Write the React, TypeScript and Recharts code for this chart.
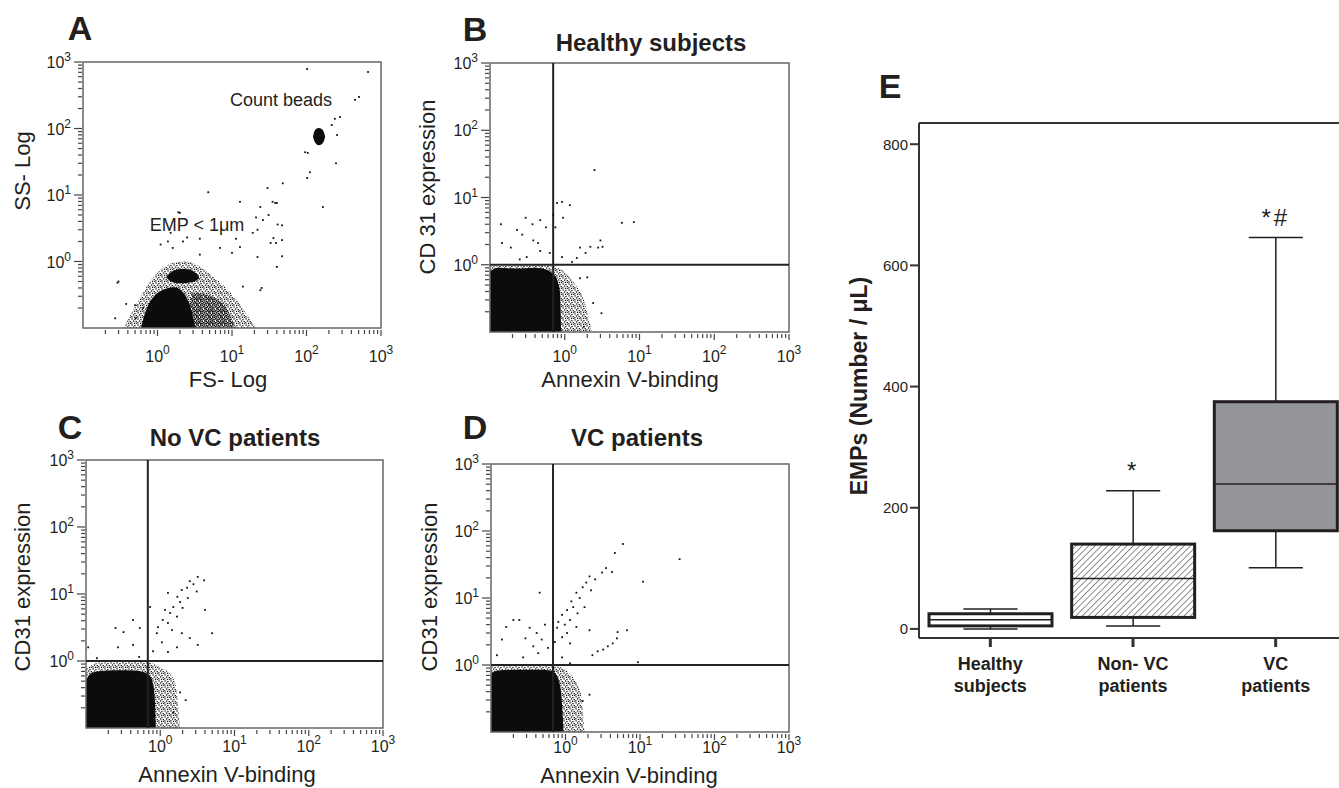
import React from 'react'
import { ComposedChart, Scatter, Area, Bar, XAxis, YAxis, ReferenceLine, ReferenceArea } from 'recharts'

type Pt = { x: number; y: number }
type Band = { x: number; band: [number, number] }

const FONT = '"Liberation Sans", Arial, Helvetica, sans-serif'
const INK = '#231f20'

// decade + minor ticks for the 10^-1 .. 10^3 log axes
const logTicks = [
  0.2, 0.3, 0.4, 0.5, 0.6, 0.7, 0.8, 0.9,
  1, 2, 3, 4, 5, 6, 7, 8, 9,
  10, 20, 30, 40, 50, 60, 70, 80, 90,
  100, 200, 300, 400, 500, 600, 700, 800, 900,
  1000,
]

// ---------- A: FS-Log vs SS-Log ----------
const aHalo: Band[] = [
  { x: 0.35, band: [0.1, 0.1] }, { x: 0.45, band: [0.1, 0.17] }, { x: 0.6, band: [0.1, 0.3] },
  { x: 0.8, band: [0.1, 0.5] }, { x: 1.1, band: [0.1, 0.75] }, { x: 1.6, band: [0.1, 0.95] },
  { x: 2.3, band: [0.1, 1.0] }, { x: 3.3, band: [0.1, 0.9] }, { x: 5, band: [0.1, 0.65] },
  { x: 8, band: [0.1, 0.42] }, { x: 12, band: [0.1, 0.25] }, { x: 17, band: [0.1, 0.14] },
  { x: 21, band: [0.1, 0.1] },
]
const aMid: Band[] = [
  { x: 2.6, band: [0.1, 0.1] }, { x: 2.9, band: [0.1, 0.34] }, { x: 4, band: [0.1, 0.33] },
  { x: 6, band: [0.1, 0.28] }, { x: 8.5, band: [0.1, 0.2] }, { x: 11, band: [0.1, 0.1] },
]
const aCore: Band[] = [
  { x: 0.6, band: [0.1, 0.1] }, { x: 0.66, band: [0.1, 0.15] }, { x: 0.75, band: [0.1, 0.22] },
  { x: 0.9, band: [0.1, 0.3] }, { x: 1.1, band: [0.1, 0.36] }, { x: 1.4, band: [0.1, 0.4] },
  { x: 1.7, band: [0.1, 0.41] }, { x: 2.0, band: [0.1, 0.38] }, { x: 2.4, band: [0.1, 0.3] },
  { x: 2.8, band: [0.1, 0.2] }, { x: 3.2, band: [0.1, 0.1] },
]
const aCap: Band[] = [
  { x: 1.3, band: [0.58, 0.58] }, { x: 1.45, band: [0.52, 0.66] }, { x: 1.7, band: [0.48, 0.74] },
  { x: 2.1, band: [0.47, 0.77] }, { x: 2.6, band: [0.48, 0.76] }, { x: 3.1, band: [0.5, 0.7] },
  { x: 3.6, band: [0.55, 0.6] },
]
const aBeads: Band[] = [
  { x: 122, band: [75, 75] }, { x: 130, band: [62, 95] }, { x: 145, band: [56, 102] },
  { x: 160, band: [58, 98] }, { x: 172, band: [66, 86] }, { x: 178, band: [75, 75] },
]
const aDots: Pt[] = [
  { x: 102, y: 785 }, { x: 670, y: 708 }, { x: 507, y: 298 }, { x: 448, y: 270 }, { x: 282, y: 149 },
  { x: 240, y: 140 }, { x: 218, y: 113 }, { x: 257, y: 80 }, { x: 96, y: 44 }, { x: 104, y: 43 },
  { x: 249, y: 30 }, { x: 111, y: 22 }, { x: 102, y: 18 }, { x: 48, y: 15 }, { x: 30, y: 12.7 },
  { x: 166, y: 6.6 }, { x: 12.8, y: 7.9 }, { x: 35, y: 7.9 }, { x: 40, y: 7.6 }, { x: 4.8, y: 11 },
  { x: 31, y: 5 }, { x: 26, y: 4.2 }, { x: 21, y: 4.6 }, { x: 47, y: 3.5 }, { x: 22, y: 3.0 },
  { x: 36, y: 2.25 }, { x: 39, y: 1.9 }, { x: 22, y: 1.17 }, { x: 47, y: 1.2 }, { x: 40, y: 0.83 },
  { x: 25, y: 0.4 }, { x: 1.9, y: 5.5 }, { x: 0.29, y: 0.48 }, { x: 0.27, y: 0.14 }, { x: 0.38, y: 0.23 },
  { x: 0.5, y: 0.22 }, { x: 10, y: 1.35 }, { x: 12.8, y: 1.65 }, { x: 19, y: 2.7 }, { x: 1.5, y: 2.7 },
  { x: 2.5, y: 2.3 }, { x: 3.7, y: 2.2 }, { x: 1.1, y: 1.8 }, { x: 1.6, y: 1.6 }, { x: 24, y: 6.6 },
  { x: 38, y: 7.6 }, { x: 41, y: 3.6 }, { x: 47, y: 2.1 }, { x: 33, y: 1.9 }, { x: 11.3, y: 2.2 },
  { x: 6.9, y: 1.6 }, { x: 3.7, y: 1.27 }, { x: 2.2, y: 2.0 }, { x: 1.38, y: 2.0 }, { x: 2.0, y: 5.4 },
  { x: 0.3, y: 0.5 }, { x: 0.64, y: 0.2 }, { x: 0.51, y: 0.14 }, { x: 14, y: 0.42 }, { x: 24, y: 0.37 },
]

// ---------- B: healthy subjects ----------
const bHalo: Band[] = [
  { x: 0.1, band: [0.1, 0.95] }, { x: 0.4, band: [0.1, 0.98] }, { x: 0.7, band: [0.1, 0.95] },
  { x: 0.9, band: [0.1, 0.85] }, { x: 1.1, band: [0.1, 0.7] }, { x: 1.4, band: [0.1, 0.5] },
  { x: 1.8, band: [0.1, 0.3] }, { x: 2.3, band: [0.1, 0.1] },
]
const bCore: Band[] = [
  { x: 0.1, band: [0.1, 0.8] }, { x: 0.13, band: [0.1, 0.9] }, { x: 0.2, band: [0.1, 0.88] },
  { x: 0.3, band: [0.1, 0.89] }, { x: 0.4, band: [0.1, 0.9] }, { x: 0.5, band: [0.1, 0.88] },
  { x: 0.6, band: [0.1, 0.82] }, { x: 0.7, band: [0.1, 0.72] }, { x: 0.8, band: [0.1, 0.58] },
  { x: 0.86, band: [0.1, 0.4] }, { x: 0.9, band: [0.1, 0.1] },
]
const bDots: Pt[] = [
  { x: 2.5, y: 25.6 }, { x: 0.92, y: 8.6 }, { x: 0.79, y: 8.3 }, { x: 1.17, y: 7.7 }, { x: 0.7, y: 5.5 },
  { x: 0.75, y: 3.6 }, { x: 0.95, y: 5 }, { x: 5.8, y: 4.2 }, { x: 8.4, y: 4.3 }, { x: 0.3, y: 5 },
  { x: 0.47, y: 4.6 }, { x: 0.56, y: 3.6 }, { x: 0.37, y: 4.0 }, { x: 0.14, y: 4.0 }, { x: 0.23, y: 3.3 },
  { x: 0.27, y: 2.8 }, { x: 0.38, y: 2.3 }, { x: 0.44, y: 2.1 }, { x: 0.145, y: 2.1 }, { x: 0.19, y: 1.8 },
  { x: 0.47, y: 1.6 }, { x: 0.63, y: 1.5 }, { x: 0.31, y: 1.3 }, { x: 0.25, y: 1.2 }, { x: 0.92, y: 1.3 },
  { x: 1.6, y: 1.8 }, { x: 2.2, y: 1.85 }, { x: 2.8, y: 1.8 }, { x: 3.0, y: 2.3 }, { x: 3.2, y: 1.85 },
  { x: 1.9, y: 1.5 }, { x: 1.45, y: 1.26 }, { x: 1.25, y: 1.1 }, { x: 2.0, y: 0.65 }, { x: 1.6, y: 0.63 },
  { x: 2.4, y: 0.27 }, { x: 3.1, y: 0.19 }, { x: 1.8, y: 0.12 },
]

// ---------- C: no VC patients ----------
const cHalo: Band[] = [
  { x: 0.1, band: [0.1, 0.75] }, { x: 0.15, band: [0.1, 0.95] }, { x: 0.3, band: [0.1, 0.97] },
  { x: 0.6, band: [0.1, 1.0] }, { x: 0.8, band: [0.1, 0.92] }, { x: 1.0, band: [0.1, 0.8] },
  { x: 1.3, band: [0.1, 0.68] }, { x: 1.6, band: [0.1, 0.45] }, { x: 1.85, band: [0.1, 0.1] },
]
const cCore: Band[] = [
  { x: 0.1, band: [0.1, 0.5] }, { x: 0.11, band: [0.1, 0.62] }, { x: 0.14, band: [0.1, 0.7] },
  { x: 0.2, band: [0.1, 0.72] }, { x: 0.3, band: [0.1, 0.73] }, { x: 0.45, band: [0.1, 0.72] },
  { x: 0.6, band: [0.1, 0.68] }, { x: 0.72, band: [0.1, 0.6] }, { x: 0.8, band: [0.1, 0.45] },
  { x: 0.84, band: [0.1, 0.3] }, { x: 0.87, band: [0.1, 0.1] },
]
const cDots: Pt[] = [
  { x: 3.2, y: 18 }, { x: 3.9, y: 16 }, { x: 2.5, y: 15.5 }, { x: 2.8, y: 14 }, { x: 2.3, y: 12.4 },
  { x: 1.95, y: 11.5 }, { x: 3.1, y: 10.9 }, { x: 1.7, y: 9.1 }, { x: 2.35, y: 8.7 }, { x: 1.85, y: 7.6 },
  { x: 1.27, y: 10.4 }, { x: 1.5, y: 6.4 }, { x: 2.0, y: 6.2 }, { x: 4.0, y: 5.8 }, { x: 1.16, y: 5.8 },
  { x: 1.36, y: 5.2 }, { x: 1.68, y: 4.6 }, { x: 1.08, y: 4.1 }, { x: 1.27, y: 3.7 }, { x: 0.93, y: 3.2 },
  { x: 1.44, y: 2.9 }, { x: 1.95, y: 2.6 }, { x: 0.9, y: 2.6 }, { x: 5.0, y: 2.6 }, { x: 2.5, y: 2.2 },
  { x: 1.05, y: 1.9 }, { x: 3.2, y: 1.74 }, { x: 1.68, y: 1.6 }, { x: 0.8, y: 1.4 }, { x: 1.27, y: 1.36 },
  { x: 0.73, y: 6.4 }, { x: 0.43, y: 4.1 }, { x: 0.53, y: 3.1 }, { x: 0.25, y: 3.1 }, { x: 0.32, y: 2.7 },
  { x: 0.43, y: 1.74 }, { x: 0.27, y: 1.6 }, { x: 0.107, y: 1.6 }, { x: 0.52, y: 1.15 }, { x: 0.14, y: 1.1 },
  { x: 2.2, y: 0.26 }, { x: 1.85, y: 0.34 }, { x: 1.5, y: 0.17 },
]

// ---------- D: VC patients ----------
const dHalo: Band[] = [
  { x: 0.1, band: [0.1, 0.95] }, { x: 0.5, band: [0.1, 1.0] }, { x: 0.8, band: [0.1, 0.95] },
  { x: 1.0, band: [0.1, 0.85] }, { x: 1.3, band: [0.1, 0.62] }, { x: 1.6, band: [0.1, 0.38] },
  { x: 1.8, band: [0.1, 0.1] },
]
const dCore: Band[] = [
  { x: 0.1, band: [0.1, 0.72] }, { x: 0.11, band: [0.1, 0.8] }, { x: 0.15, band: [0.1, 0.84] },
  { x: 0.3, band: [0.1, 0.85] }, { x: 0.5, band: [0.1, 0.85] }, { x: 0.68, band: [0.1, 0.8] },
  { x: 0.8, band: [0.1, 0.62] }, { x: 0.88, band: [0.1, 0.35] }, { x: 0.94, band: [0.1, 0.1] },
]
const dDots: Pt[] = [
  { x: 5.9, y: 64 }, { x: 4.6, y: 47 }, { x: 34, y: 38 }, { x: 3.5, y: 28 }, { x: 3.1, y: 24 },
  { x: 4.2, y: 24.5 }, { x: 2.1, y: 21 }, { x: 2.5, y: 19 }, { x: 1.9, y: 17 }, { x: 11, y: 17.5 },
  { x: 1.7, y: 14.5 }, { x: 2.2, y: 13 }, { x: 1.4, y: 12 }, { x: 1.55, y: 10 }, { x: 1.2, y: 8.9 },
  { x: 1.27, y: 7.3 }, { x: 1.8, y: 7.3 }, { x: 1.05, y: 6.6 }, { x: 1.45, y: 5.9 }, { x: 0.9, y: 5.6 },
  { x: 1.15, y: 4.7 }, { x: 0.8, y: 4.4 }, { x: 0.98, y: 4.0 }, { x: 1.4, y: 3.7 }, { x: 0.77, y: 3.6 },
  { x: 1.05, y: 3.0 }, { x: 2.1, y: 3.3 }, { x: 1.15, y: 2.1 }, { x: 0.9, y: 2.6 }, { x: 0.72, y: 2.2 },
  { x: 5.0, y: 3.1 }, { x: 4.9, y: 2.5 }, { x: 4.3, y: 2.1 }, { x: 3.7, y: 1.9 }, { x: 3.2, y: 1.7 },
  { x: 2.7, y: 1.6 }, { x: 2.3, y: 1.4 }, { x: 6.7, y: 3.3 }, { x: 9.4, y: 1.1 },
  { x: 0.45, y: 12 }, { x: 0.2, y: 4.7 }, { x: 0.24, y: 4.7 }, { x: 0.33, y: 3.6 }, { x: 0.53, y: 4.0 },
  { x: 0.41, y: 3.0 }, { x: 0.16, y: 3.7 }, { x: 0.29, y: 2.5 }, { x: 0.48, y: 2.4 }, { x: 0.37, y: 1.9 },
  { x: 0.14, y: 2.4 }, { x: 0.43, y: 1.5 }, { x: 0.12, y: 1.4 }, { x: 0.58, y: 1.8 }, { x: 0.27, y: 1.3 },
  { x: 0.9, y: 1.3 }, { x: 1.15, y: 1.06 }, { x: 2.1, y: 0.36 }, { x: 1.7, y: 0.29 },
]

// ---------- E: EMP counts ----------
const groups = ['Healthy subjects', 'Non- VC patients', 'VC patients']
const whiskerLow = [0, 5, 101]
const q1 = [5, 19, 162]
const median = [15, 83, 239]
const q3 = [25, 140, 375]
const whiskerHigh = [33, 228, 646]
const marks = ['', '*', '*#']
const empTicks = [0, 200, 400, 600, 800]

const boxData = groups.map((name, i) => ({
  name,
  range: [whiskerLow[i], whiskerHigh[i]],
  q1: q1[i],
  median: median[i],
  q3: q3[i],
  mark: marks[i],
}))

const boxFills = ['#ffffff', 'url(#hatch)', '#939598']

function isDecade(v: number) {
  const e = Math.log10(v)
  return Math.abs(e - Math.round(e)) < 1e-6
}

function LogXTick({ x, y, payload, gap }: any) {
  const v = payload.value
  const major = isDecade(v)
  return (
    <g>
      <line x1={x} x2={x} y1={y + 2} y2={y + (major ? 8 : 6)} stroke="#444" strokeWidth={1.2} />
      {major && (
        <text x={x} y={y + gap} textAnchor="middle" fontSize={16} fill={INK}>
          10<tspan dy={-8} fontSize={12}>{Math.round(Math.log10(v))}</tspan>
        </text>
      )}
    </g>
  )
}

function LogYTick({ x, y, payload }: any) {
  const v = payload.value
  const major = isDecade(v)
  return (
    <g>
      <line x1={x - 1} x2={x - (major ? 9 : 5)} y1={y} y2={y} stroke="#444" strokeWidth={1.2} />
      {major && (
        <text x={x - 12} y={y + 6} textAnchor="end" fontSize={16} fill={INK}>
          10<tspan dy={-7} fontSize={12}>{Math.round(Math.log10(v))}</tspan>
        </text>
      )}
    </g>
  )
}

const dot = (p: any) => <rect x={p.cx - 0.9} y={p.cy - 0.9} width={1.8} height={1.8} fill="#111" />

type FlowProps = {
  left: number
  top: number
  w: number
  h: number
  labelGap: number
  halos: Band[][]
  mids?: Band[][]
  cores: Band[][]
  dots: Pt[]
  gate?: { x: number; y: number }
}

function FlowPanel({ left, top, w, h, labelGap, halos, mids = [], cores, dots, gate }: FlowProps) {
  return (
    <div style={{ position: 'absolute', left: left - 60, top: top - 20 }}>
      <ComposedChart width={w + 75} height={h + 65} margin={{ top: 20, right: 15, bottom: 0, left: 0 }}>
        <XAxis
          dataKey="x" type="number" scale="log" domain={[0.1, 1000]} allowDataOverflow
          ticks={logTicks} interval={0} tickSize={0} tickMargin={0} axisLine={false} tickLine={false}
          tick={(p: any) => <LogXTick {...p} gap={labelGap} />} height={45}
        />
        <YAxis
          dataKey="y" type="number" scale="log" domain={[0.1, 1000]} allowDataOverflow
          ticks={logTicks} interval={0} tickSize={0} tickMargin={0} axisLine={false} tickLine={false}
          tick={(p: any) => <LogYTick {...p} />} width={60}
        />
        {halos.map((d, i) => (
          <Area key={'h' + i} data={d} dataKey="band" type="monotone" stroke="none" fill="url(#speckle)"
            fillOpacity={1} dot={false} activeDot={false} isAnimationActive={false} />
        ))}
        {mids.map((d, i) => (
          <Area key={'m' + i} data={d} dataKey="band" type="monotone" stroke="none" fill="url(#speckleDense)"
            fillOpacity={1} dot={false} activeDot={false} isAnimationActive={false} />
        ))}
        {cores.map((d, i) => (
          <Area key={'c' + i} data={d} dataKey="band" type="monotone" stroke="none" fill="#0c0c0c"
            fillOpacity={1} dot={false} activeDot={false} isAnimationActive={false} />
        ))}
        <Scatter data={dots} shape={dot} isAnimationActive={false} />
        {gate && <ReferenceLine x={gate.x} stroke="#222" strokeWidth={2} />}
        {gate && <ReferenceLine y={gate.y} stroke="#222" strokeWidth={2} />}
        <ReferenceArea x1={0.1} x2={1000} y1={0.1} y2={1000} fill="none" stroke="#666" strokeWidth={1.5} />
      </ComposedChart>
    </div>
  )
}

function GroupTick({ x, y, payload }: any) {
  const s: string = payload.value
  const cut = s.lastIndexOf(' ')
  return (
    <text x={x} textAnchor="middle" fontSize={18} fontWeight="bold" fill={INK}>
      <tspan x={x} y={y + 23}>{s.slice(0, cut)}</tspan>
      <tspan x={x} y={y + 45}>{s.slice(cut + 1)}</tspan>
    </text>
  )
}

function BoxShape(props: any) {
  const { x, y, width, height, payload, index } = props
  if (!payload) return null
  const [lo, hi] = payload.range
  const top = Math.min(y, y + height)
  const bottom = Math.max(y, y + height)
  const ppu = (bottom - top) / (hi - lo)
  const yOf = (v: number) => bottom - (v - lo) * ppu
  const cx = x + width / 2
  const half = width * 0.22
  const yq1 = yOf(payload.q1)
  const yq3 = yOf(payload.q3)
  const ymed = yOf(payload.median)
  return (
    <g>
      <line x1={cx} x2={cx} y1={top} y2={yq3} stroke={INK} strokeWidth={1.5} />
      <line x1={cx} x2={cx} y1={yq1} y2={bottom} stroke={INK} strokeWidth={1.5} />
      <line x1={cx - half} x2={cx + half} y1={top} y2={top} stroke={INK} strokeWidth={1.5} />
      <line x1={cx - half} x2={cx + half} y1={bottom} y2={bottom} stroke={INK} strokeWidth={1.5} />
      <rect x={x} y={yq3} width={width} height={yq1 - yq3} fill={boxFills[index]} stroke={INK} strokeWidth={3} />
      <line x1={x} x2={x + width} y1={ymed} y2={ymed} stroke={INK} strokeWidth={1.5} />
      {payload.mark && (
        <text x={cx} y={top - 12} textAnchor="middle" fontSize={24} letterSpacing={3} fill={INK}>
          {payload.mark}
        </text>
      )}
    </g>
  )
}

function BoxPanel() {
  return (
    <div style={{ position: 'absolute', left: 859, top: 113 }}>
      <ComposedChart width={488} height={595} data={boxData} margin={{ top: 10, right: 0, bottom: 0, left: 0 }} barCategoryGap="7%">
        <XAxis
          dataKey="name" type="category" height={70} interval={0} tickSize={9} tickMargin={0}
          axisLine={{ stroke: '#333', strokeWidth: 2 }} tickLine={{ stroke: '#333', strokeWidth: 3 }}
          tick={(p: any) => <GroupTick {...p} />}
        />
        <YAxis
          type="number" domain={[-15, 835]} allowDataOverflow ticks={empTicks} interval={0} width={60}
          tickSize={9} tickMargin={2} axisLine={{ stroke: '#333', strokeWidth: 2 }}
          tickLine={{ stroke: '#333', strokeWidth: 2 }} tick={{ fontSize: 15, fill: INK }}
        />
        <ReferenceLine y={835} stroke="#333" strokeWidth={2} />
        <Bar dataKey="range" isAnimationActive={false} shape={(p: any) => <BoxShape {...p} />} />
      </ComposedChart>
    </div>
  )
}

// shared fills: speckled event clouds and the hatched box
function Patterns() {
  return (
    <svg width={0} height={0} style={{ position: 'absolute' }}>
      <defs>
        <pattern id="speckle" patternUnits="userSpaceOnUse" width={6} height={6}>
          <rect x={0.4} y={0.3} width={1.3} height={1.3} fill="#111" />
          <rect x={3.3} y={0.9} width={1.3} height={1.3} fill="#111" />
          <rect x={1.9} y={2.4} width={1.3} height={1.3} fill="#111" />
          <rect x={4.6} y={3.0} width={1.3} height={1.3} fill="#111" />
          <rect x={0.2} y={4.2} width={1.3} height={1.3} fill="#111" />
          <rect x={2.9} y={4.7} width={1.3} height={1.3} fill="#111" />
          <rect x={5.0} y={5.2} width={1.0} height={0.8} fill="#111" />
        </pattern>
        <pattern id="speckleDense" patternUnits="userSpaceOnUse" width={4} height={4}>
          <rect x={0} y={0} width={1.5} height={1.5} fill="#111" />
          <rect x={2.2} y={0.6} width={1.5} height={1.5} fill="#111" />
          <rect x={1.0} y={2.1} width={1.5} height={1.5} fill="#111" />
          <rect x={2.9} y={2.6} width={1.1} height={1.4} fill="#111" />
        </pattern>
        <pattern id="hatch" patternUnits="userSpaceOnUse" width={4.5} height={4.5} patternTransform="rotate(45)">
          <line x1={0} y1={0} x2={0} y2={4.5} stroke="#333" strokeWidth={1.1} />
        </pattern>
      </defs>
    </svg>
  )
}

function Txt({ x, y, size, bold, rotate, children }: any) {
  return (
    <div
      style={{
        position: 'absolute', left: x, top: y, fontSize: size, lineHeight: 1, whiteSpace: 'nowrap',
        fontWeight: bold ? 'bold' : 'normal', color: INK,
        transform: `translate(-50%, -50%)${rotate ? ' rotate(-90deg)' : ''}`,
      }}
    >
      {children}
    </div>
  )
}

export default function App() {
  return (
    <div style={{ position: 'absolute', left: 0, top: 0, width: 1339, height: 788, overflow: 'hidden', background: '#fff', fontFamily: FONT }}>
      <Patterns />
      <FlowPanel left={83} top={62} w={298} h={266} labelGap={34} halos={[aHalo]} mids={[aMid]} cores={[aCore, aCap, aBeads]} dots={aDots} />
      <FlowPanel left={490} top={63} w={299} h={269} labelGap={30} halos={[bHalo]} cores={[bCore]} dots={bDots} gate={{ x: 0.7, y: 1 }} />
      <FlowPanel left={86} top={460} w={297} h={268} labelGap={24} halos={[cHalo]} cores={[cCore]} dots={cDots} gate={{ x: 0.68, y: 1 }} />
      <FlowPanel left={491} top={464} w={298} h={268} labelGap={21} halos={[dHalo]} cores={[dCore]} dots={dDots} gate={{ x: 0.68, y: 1 }} />
      <BoxPanel />

      <Txt x={80} y={28} size={34} bold>A</Txt>
      <Txt x={23} y={171} size={22} rotate>SS- Log</Txt>
      <Txt x={228} y={380} size={22}>FS- Log</Txt>
      <Txt x={281} y={100} size={18}>Count beads</Txt>
      <Txt x={197} y={225} size={18}>EMP &lt; 1μm</Txt>

      <Txt x={475} y={29} size={34} bold>B</Txt>
      <Txt x={651} y={43} size={24} bold>Healthy subjects</Txt>
      <Txt x={428} y={187} size={22} rotate>CD 31 expression</Txt>
      <Txt x={630} y={380} size={22}>Annexin V-binding</Txt>

      <Txt x={70} y={427} size={34} bold>C</Txt>
      <Txt x={235} y={438} size={24} bold>No VC patients</Txt>
      <Txt x={23} y={587} size={22} rotate>CD31 expression</Txt>
      <Txt x={227} y={775} size={22}>Annexin V-binding</Txt>

      <Txt x={475} y={427} size={34} bold>D</Txt>
      <Txt x={637} y={438} size={24} bold>VC patients</Txt>
      <Txt x={430} y={587} size={22} rotate>CD31 expression</Txt>
      <Txt x={629} y={776} size={22}>Annexin V-binding</Txt>

      <Txt x={890} y={86} size={34} bold>E</Txt>
      <Txt x={859} y={386} size={23} bold rotate>EMPs (Number / μL)</Txt>
    </div>
  )
}
